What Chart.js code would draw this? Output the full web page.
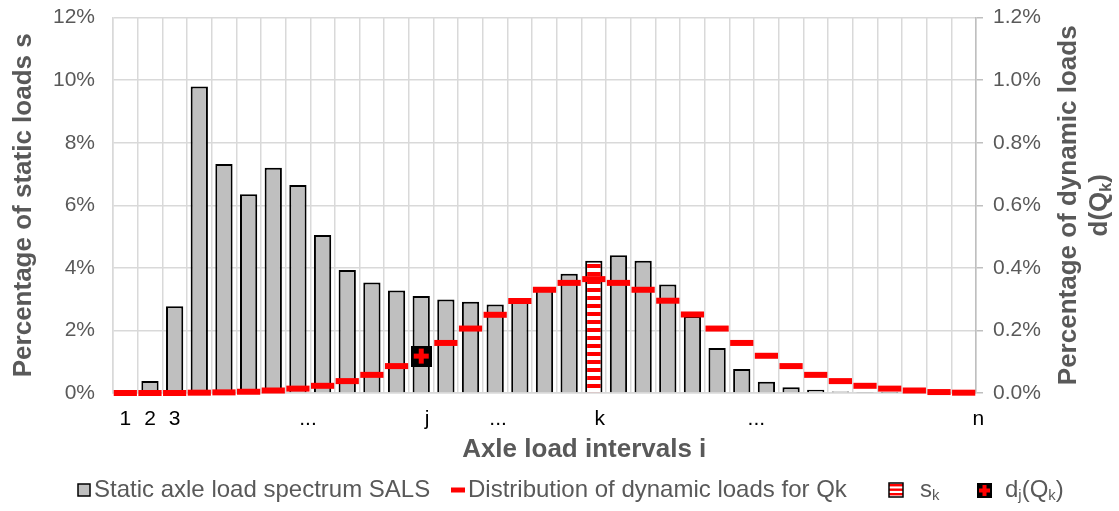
<!DOCTYPE html>
<html><head><meta charset="utf-8">
<script src="https://cdn.jsdelivr.net/npm/chart.js@4.4.1/dist/chart.umd.min.js"></script>
<style>html,body{margin:0;padding:0;background:#fff}#wrap{width:1119px;height:511px}</style>
</head><body><div id="wrap"><canvas id="c" width="1119" height="511"></canvas></div>
<script>
// ---- data ----
const categories = ['1','2','3','','','','','','...','','','','j','','','...','','','','k','','','','','','...','','','','','','','','','n'];
const staticLoads = [0,0.38,2.77,9.8,7.32,6.35,7.2,6.65,5.05,3.93,3.53,3.28,3.1,2.99,2.92,2.83,3.0,3.3,3.81,4.23,4.4,4.23,3.47,2.45,1.44,0.77,0.36,0.18,0.1,0.05,0.03,0.01,0.005,0,0];
const dynamicLoads = [0,0,0,0.001,0.002,0.004,0.008,0.014,0.023,0.038,0.058,0.086,0.118,0.16,0.206,0.25,0.294,0.33,0.352,0.364,0.352,0.33,0.295,0.251,0.206,0.16,0.119,0.086,0.058,0.038,0.023,0.014,0.008,0.003,0.001];
const leftTickLabels = ['0%','2%','4%','6%','8%','10%','12%'];
const rightTickLabels = ['0.0%','0.2%','0.4%','0.6%','0.8%','1.0%','1.2%'];
const jIndex = 12;
const kIndex = 19;
const seriesNames = ['Static axle load spectrum SALS','Distribution of dynamic loads for Qk'];

// ---- styling helpers ----
const FONT = "'Liberation Sans', Arial, Helvetica, sans-serif";
Chart.defaults.font.family = FONT;
const GRAY_TXT = '#595959';
// label shifts (in spaces) to mimic the reference placement of category labels
const labelPad = {8:{after:5}, 12:{before:2}, 15:{before:1}, 19:{before:2}, 25:{before:5}, 34:{before:5}};
const xTitleShift = 11; // leading spaces to push the x title right like the reference

const ctx0 = document.getElementById('c').getContext('2d');
// striped pattern for s_k bar
const pc = document.createElement('canvas'); pc.width = 8; pc.height = 8;
const pcx = pc.getContext('2d');
pcx.fillStyle = '#ffffff'; pcx.fillRect(0,0,8,8);
pcx.fillStyle = '#ff0000'; pcx.fillRect(0,0,8,4);
const stripePattern = ctx0.createPattern(pc, 'repeat');
// cross marker for d_j(Q_k)
function makeCross(size){
  const c = document.createElement('canvas'); c.width = size; c.height = size;
  const g = c.getContext('2d');
  g.fillStyle = '#000'; g.fillRect(0,0,size,size);
  g.fillStyle = '#ff0000';
  const arm = Math.round(size*0.72), th = Math.round(size*0.24);
  const o = (size-arm)/2, t = (size-th)/2;
  g.fillRect(o, t, arm, th); g.fillRect(t, o, th, arm);
  return c;
}
const crossImg = makeCross(21);

function drawRich(ctx, parts, x, y, size, weight, measureOnly){
  let cx = x;
  for (const p of parts){
    const s = p.sub ? size*0.62 : size;
    ctx.font = `${weight} ${s}px ${FONT}`;
    if (!measureOnly) ctx.fillText(p.t, cx, y + (p.sub ? size*0.25 : 0));
    cx += ctx.measureText(p.t).width;
  }
  return cx - x;
}

const overlay = {
  id: 'overlay',
  afterDraw(chart){
    const ctx = chart.ctx;
    ctx.save();
    // right axis title (two lines, bottom-to-top)
    const ca = chart.chartArea;
    const cy = (ca.top + ca.bottom)/2;
    ctx.fillStyle = GRAY_TXT; ctx.textBaseline = 'middle'; ctx.textAlign = 'left';
    const lines = [
      {x:1069, parts:[{t:'Percentage of dynamic loads'}]},
      {x:1100, parts:[{t:'d(Q'},{t:'k',sub:true},{t:')'}]}
    ];
    for (const L of lines){
      const w = drawRich(ctx, L.parts, 0, 0, 26, 'bold', true);
      ctx.save(); ctx.translate(L.x, cy); ctx.rotate(-Math.PI/2);
      drawRich(ctx, L.parts, -w/2, 0, 26, 'bold', false);
      ctx.restore();
    }
    // legend
    const ly = 490, fs = 24;
    ctx.lineWidth = 1.5;
    // item 1
    ctx.fillStyle = '#bfbfbf'; ctx.fillRect(78,484,12,12);
    ctx.strokeStyle = '#000'; ctx.strokeRect(78,484,12,12);
    ctx.fillStyle = GRAY_TXT;
    drawRich(ctx, [{t:seriesNames[0]}], 94, ly, fs, 'normal');
    // item 2
    ctx.strokeStyle = '#ff0000'; ctx.lineWidth = 5;
    ctx.beginPath(); ctx.moveTo(451, ly); ctx.lineTo(465, ly); ctx.stroke();
    ctx.fillStyle = GRAY_TXT;
    drawRich(ctx, [{t:seriesNames[1]}], 468, ly, fs, 'normal');
    // item 3 striped box
    ctx.fillStyle = '#fff'; ctx.fillRect(889,483,14,14);
    ctx.fillStyle = '#ff0000';
    for (let yy = 484; yy < 497; yy += 4.5) ctx.fillRect(889, yy, 14, 2.4);
    ctx.strokeStyle = '#000'; ctx.lineWidth = 1.5; ctx.strokeRect(889,483,14,14);
    ctx.fillStyle = GRAY_TXT;
    drawRich(ctx, [{t:'s'},{t:'k',sub:true}], 920, ly, fs, 'normal');
    // item 4 cross box
    ctx.drawImage(makeCross(15), 977, 483);
    ctx.fillStyle = GRAY_TXT;
    drawRich(ctx, [{t:'d'},{t:'j',sub:true},{t:'(Q'},{t:'k',sub:true},{t:')'}], 1005, ly, fs, 'normal');
    ctx.restore();
  }
};

new Chart(ctx0, {
  type: 'bar',
  data: {
    labels: categories,
    datasets: [
      {
        type: 'line', label: seriesNames[1], data: dynamicLoads, yAxisID: 'y1',
        showLine: false, clip: false, order: 1,
        pointStyle: c => c.dataIndex === jIndex ? crossImg : 'line',
        pointRadius: 11.6, pointHoverRadius: 11.6, pointBorderWidth: 6,
        pointBorderColor: '#ff0000', pointBackgroundColor: '#ff0000'
      },
      {
        type: 'bar', label: seriesNames[0], data: staticLoads, yAxisID: 'y', order: 2,
        backgroundColor: c => c.dataIndex === kIndex ? stripePattern : '#bfbfbf',
        borderColor: '#000', borderWidth: 2,
        barPercentage: 0.7, categoryPercentage: 1.0
      }
    ]
  },
  options: {
    responsive: false, animation: false, events: [],
    layout: { padding: { top: 16, right: 0, bottom: 46, left: 0 } },
    plugins: { legend: { display: false }, tooltip: { enabled: false } },
    scales: {
      x: {
        type: 'category', offset: true,
        grid: { color: '#d9d9d9', lineWidth: 1.5, drawTicks: false, offset: true },
        border: { color: '#d9d9d9', width: 1.5 },
        ticks: {
          autoSkip: false, maxRotation: 0, minRotation: 0, color: '#000', font: { size: 21 }, padding: 14,
          callback: (v, i) => {
            const lab = categories[i]; if (!lab) return '';
            const p = labelPad[i] || {};
            return ' '.repeat(p.before || 0) + lab + ' '.repeat(p.after || 0);
          }
        },
        title: { display: true, text: ' '.repeat(xTitleShift) + 'Axle load intervals i', color: GRAY_TXT, font: { size: 26, weight: 'bold' }, padding: { top: 0, bottom: 0 } },
        afterFit: s => { s.height = 72; s.paddingLeft = 0; s.paddingRight = 0; }
      },
      y: {
        position: 'left', min: 0, max: 12,
        ticks: { stepSize: 2, color: GRAY_TXT, font: { size: 21 }, padding: 18, callback: (v, i) => leftTickLabels[i] },
        grid: { color: '#d9d9d9', lineWidth: 1.5, drawTicks: false },
        border: { color: '#d9d9d9', width: 1.5 },
        title: { display: true, text: 'Percentage of static loads s', color: GRAY_TXT, font: { size: 26, weight: 'bold' }, padding: { top: 8, bottom: 0 } },
        afterFit: s => { s.width = 113; s.paddingTop = 0; s.paddingBottom = 0; }
      },
      y1: {
        position: 'right', min: 0, max: 1.2,
        ticks: { stepSize: 0.2, color: GRAY_TXT, font: { size: 21 }, padding: 10, callback: (v, i) => rightTickLabels[i] },
        grid: { drawOnChartArea: false, drawTicks: true, tickLength: 7, color: '#bfbfbf', lineWidth: 1.5 },
        border: { color: '#bfbfbf', width: 1.5 },
        afterFit: s => { s.width = 143; s.paddingTop = 0; s.paddingBottom = 0; }
      }
    }
  },
  plugins: [overlay]
});
</script></body></html>
